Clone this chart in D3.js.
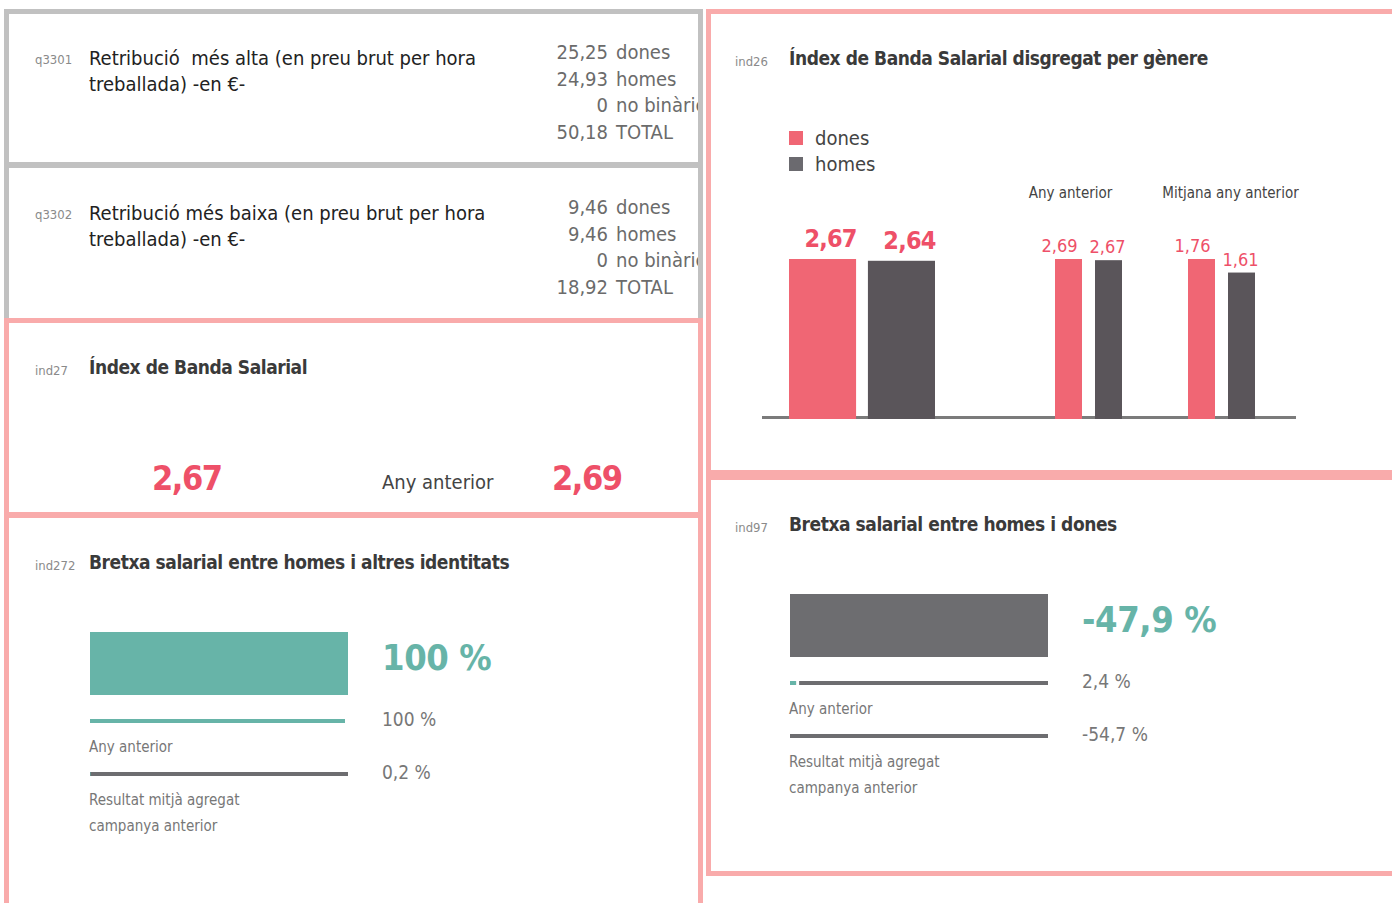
<!DOCTYPE html>
<html lang="ca">
<head>
<meta charset="UTF-8">
<script src="https://cdn.jsdelivr.net/npm/d3@7"></script>
<title>Indicadors salarials</title>
<style>
  body { margin: 0; background: #fff; }
  svg text { font-family: 'Liberation Sans Narrow', 'DejaVu Sans Condensed', 'Roboto', sans-serif; }
</style>
</head>
<body>
<svg id="chart" width="1392" height="903"></svg>
<script>
// ---- data ----
const genderLabels = ["dones", "homes", "no binàries", "TOTAL"];
const q3301Values = [25.25, 24.93, 0, 50.18];
const q3302Values = [9.46, 9.46, 0, 18.92];

const ind27Current = 2.67;
const ind27Previous = 2.69;

const ind26Series = ["dones", "homes"];
const ind26Groups = ["actual", "Any anterior", "Mitjana any anterior"];
const ind26Dones = [2.67, 2.69, 1.76];
const ind26Homes = [2.64, 2.67, 1.61];

const ind272Values = [100, 100, 0.2];     // actual, any anterior, mitjana agregada
const ind97Values = [-47.9, 2.4, -54.7];

// ---- formats ----
const loc = d3.formatLocale({ decimal: ",", thousands: ".", grouping: [3], currency: ["", " €"], minus: "-" });
const fmt2 = v => v === 0 ? "0" : loc.format(".2f")(v);
const fmtPct = v => loc.format(".1~f")(v) + " %";

// ---- colours ----
const pink = "#f9abab", greyBorder = "#c1c1c1";
const red = "#ee5068", barRed = "#f06674", barDark = "#5a555a";
const teal = "#67b4a8", greyBar = "#6d6d70";

const svg = d3.select("#chart");

svg.append("defs").append("clipPath").attr("id", "leftClip")
  .append("rect").attr("x", 0).attr("y", 0).attr("width", 698).attr("height", 903);

// panels
const panels = [
  { x: 4, y: 9, w: 699, h: 158, c: greyBorder },
  { x: 4, y: 163, w: 699, h: 160, c: greyBorder },
  { x: 4, y: 318, w: 699, h: 200, c: pink },
  { x: 4, y: 512, w: 699, h: 430, c: pink },
  { x: 706, y: 9, w: 720, h: 466, c: pink },
  { x: 706, y: 475, w: 720, h: 401, c: pink }
];
svg.selectAll("rect.panel").data(panels).enter().append("rect")
  .attr("class", "panel")
  .attr("x", d => d.x + 2.5).attr("y", d => d.y + 2.5)
  .attr("width", d => d.w - 5).attr("height", d => d.h - 5)
  .attr("fill", "none").attr("stroke", d => d.c).attr("stroke-width", 5);

const idLabel = (x, y, t) => svg.append("text").attr("x", x).attr("y", y)
  .attr("font-size", 13).attr("fill", "#8a8a8a").text(t);
const boldTitle = (x, y, t) => svg.append("text").attr("x", x).attr("y", y)
  .attr("font-size", 19).attr("font-weight", "bold").attr("letter-spacing", -0.45)
  .attr("fill", "#3a3a3a").text(t);

// ---- q3301 / q3302 ----
function retribucio(id, lines, values, top) {
  idLabel(35, top + 5, id);
  svg.append("text").attr("x", 89).attr("y", top + 6).attr("font-size", 20).attr("fill", "#222")
    .style("white-space", "pre")
    .selectAll("tspan").data(lines).enter().append("tspan")
    .attr("x", 89).attr("dy", (d, i) => i ? 26 : 0).text(d => d);
  const rows = svg.append("g").attr("clip-path", "url(#leftClip)");
  const y = d3.scalePoint().domain(genderLabels).range([top, top + 80]);
  rows.selectAll("text.num").data(values).enter().append("text")
    .attr("x", 608).attr("y", (d, i) => y(genderLabels[i]))
    .attr("text-anchor", "end").attr("font-size", 20).attr("fill", "#6b6b6b")
    .text(d => fmt2(d));
  rows.selectAll("text.lab").data(genderLabels).enter().append("text")
    .attr("x", 616).attr("y", d => y(d))
    .attr("font-size", 20).attr("fill", "#6b6b6b").text(d => d);
}
retribucio("q3301", ["Retribució  més alta (en preu brut per hora", "treballada) -en €-"], q3301Values, 59);
retribucio("q3302", ["Retribució més baixa (en preu brut per hora", "treballada) -en €-"], q3302Values, 214);

// ---- ind27 ----
idLabel(35, 375, "ind27");
boldTitle(89, 374, "Índex de Banda Salarial");
const bigNum = (x, y, t) => svg.append("text").attr("x", x).attr("y", y).attr("font-size", 34)
  .attr("font-weight", "bold").attr("letter-spacing", -1.5).attr("fill", red).text(t);
bigNum(152, 490, fmt2(ind27Current));
svg.append("text").attr("x", 382).attr("y", 489).attr("font-size", 20).attr("fill", "#444").text("Any anterior");
bigNum(552, 490, fmt2(ind27Previous));

// ---- gap panels (ind272, ind97) ----
function gapPanel(id, title, values, x0, top) {
  idLabel(x0 - 54, top + 8, id);
  boldTitle(x0, top + 7, title);
  const w = 258;
  const big = d3.scaleLinear().domain([0, 100]).range([0, w]).clamp(true);
  const small = d3.scaleLinear().domain([0, 100]).range([0, w - 3]).clamp(true);
  const barTop = top + 70;
  const cur = values[0];
  // main bar
  svg.append("rect").attr("x", x0 + 1).attr("y", barTop).attr("height", 63)
    .attr("width", cur > 0 ? big(cur) : w)
    .attr("fill", cur > 0 ? teal : greyBar);
  svg.append("text").attr("x", x0 + 293).attr("y", barTop + 38).attr("font-size", 36)
    .attr("font-weight", "bold").attr("letter-spacing", -0.4).attr("fill", teal).text(fmtPct(cur));
  // reference lines: grey track, teal share, white separator
  const refs = [
    { v: values[1], y: barTop + 89, label: ["Any anterior"] },
    { v: values[2], y: barTop + 142, label: ["Resultat mitjà agregat", "campanya anterior"] }
  ];
  refs.forEach(r => {
    const tw = r.v > 0 ? small(r.v) : 0;
    svg.append("rect").attr("x", x0 + 1).attr("y", r.y - 2).attr("width", w).attr("height", 4).attr("fill", greyBar);
    if (tw > 0) {
      svg.append("rect").attr("x", x0 + 1).attr("y", r.y - 2).attr("width", tw).attr("height", 4).attr("fill", teal);
      if (tw >= 1) svg.append("rect").attr("x", x0 + 1 + tw).attr("y", r.y - 2.5).attr("width", 3).attr("height", 5).attr("fill", "#fff");
    }
    svg.append("text").attr("x", x0 + 293).attr("y", r.y + 5).attr("font-size", 19).attr("fill", "#777").text(fmtPct(r.v));
    svg.append("text").attr("font-size", 15).attr("fill", "#777")
      .selectAll("tspan").data(r.label).enter().append("tspan")
      .attr("x", x0).attr("y", (d, i) => r.y + 31 + i * 26).text(d => d);
  });
}
gapPanel("ind272", "Bretxa salarial entre homes i altres identitats", ind272Values, 89, 562);
gapPanel("ind97", "Bretxa salarial entre homes i dones", ind97Values, 789, 524);

// ---- ind26 ----
idLabel(735, 66, "ind26");
boldTitle(789, 65, "Índex de Banda Salarial disgregat per gènere");
const colour = d3.scaleOrdinal().domain(ind26Series).range([barRed, barDark]);
const legend = svg.append("g").selectAll("g").data(ind26Series).enter().append("g")
  .attr("transform", (d, i) => `translate(789, ${131 + i * 26})`);
legend.append("rect").attr("width", 14).attr("height", 14).attr("fill", d => d === "homes" ? "#6b6a6f" : barRed);
legend.append("text").attr("x", 26).attr("y", 14).attr("font-size", 20).attr("fill", "#444").text(d => d);

const baseY = 418, topY = 259;
svg.append("line").attr("x1", 762).attr("x2", 1296).attr("y1", 417.5).attr("y2", 417.5)
  .attr("stroke", "#7b7b7b").attr("stroke-width", 3);

const groupLayout = [
  { x: 789, w: 146, pad: 0.15, big: true, hdx: 0 },
  { x: 1055, w: 67, pad: 0.325, big: false, hdx: -18 },
  { x: 1188, w: 67, pad: 0.325, big: false, hdx: 9 }
];
ind26Groups.forEach((g, gi) => {
  const L = groupLayout[gi];
  const vals = [ind26Dones[gi], ind26Homes[gi]];
  const xb = d3.scaleBand().domain(ind26Series).range([L.x, L.x + L.w]).paddingInner(L.pad);
  const y = d3.scaleLinear().domain([0, d3.max(vals)]).range([baseY, topY]);
  const gg = svg.append("g");
  gg.selectAll("rect").data(vals).enter().append("rect")
    .attr("x", (d, i) => xb(ind26Series[i])).attr("width", xb.bandwidth())
    .attr("y", d => y(d)).attr("height", d => baseY + 1 - y(d))
    .attr("fill", (d, i) => colour(ind26Series[i]));
  gg.selectAll("text").data(vals).enter().append("text")
    .attr("x", (d, i) => xb(ind26Series[i]) + xb.bandwidth() / 2 - (L.big ? -8 : (i === 0 ? 9 : 1)))
    .attr("y", d => y(d) - (L.big ? 12 : 7))
    .attr("text-anchor", "middle")
    .attr("font-size", L.big ? 25 : 18).attr("font-weight", L.big ? "bold" : "normal")
    .attr("letter-spacing", L.big ? -0.8 : 0)
    .attr("fill", red).text(d => fmt2(d));
  if (gi > 0) {
    svg.append("text").attr("x", L.x + L.w / 2 + L.hdx).attr("y", 198)
      .attr("text-anchor", "middle").attr("font-size", 15).attr("fill", "#444").text(g);
  }
});
</script>
</body>
</html>
